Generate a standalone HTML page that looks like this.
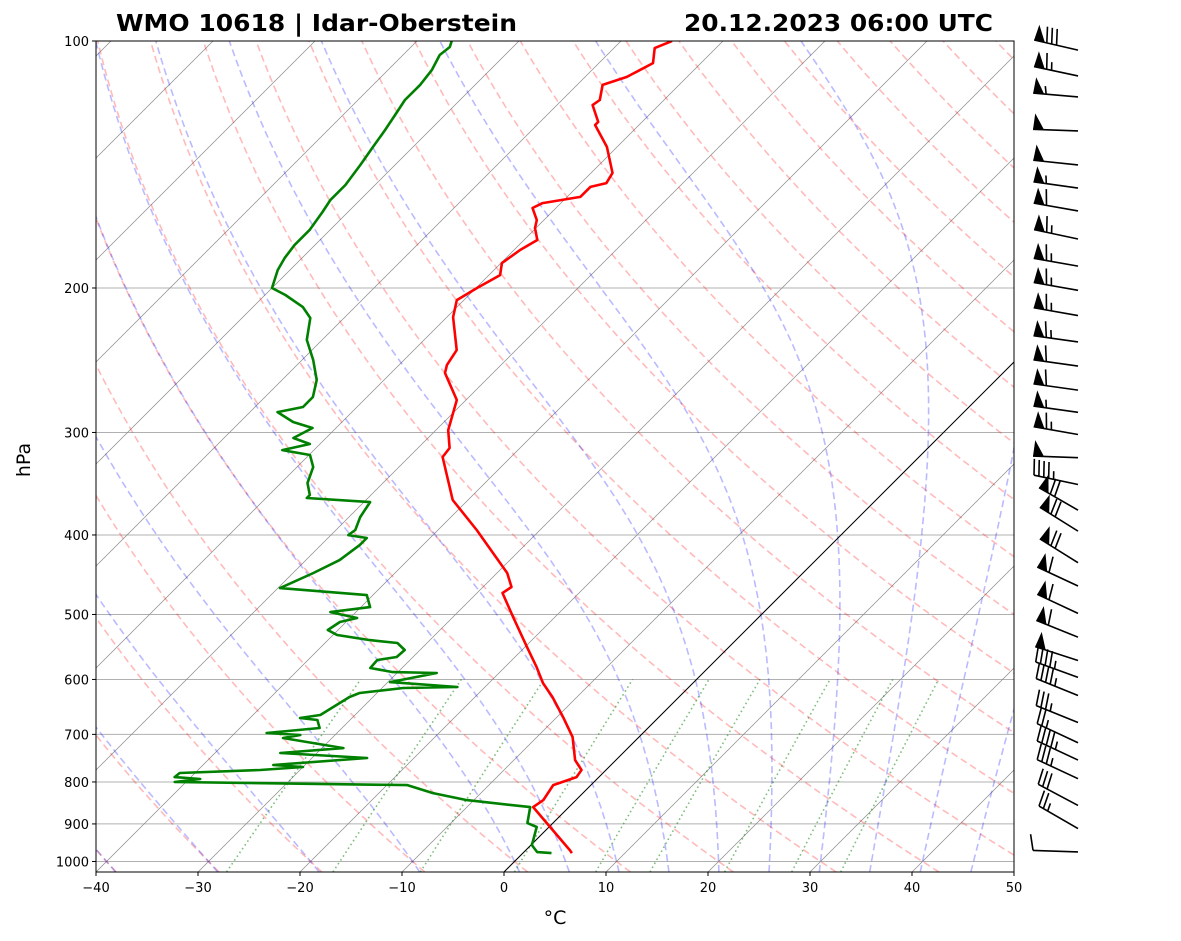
<!DOCTYPE html>
<html><head><meta charset="utf-8"><title>Skew-T WMO 10618</title>
<style>
html,body{margin:0;padding:0;background:#fff;}
svg{display:block;font-family:"DejaVu Sans","Liberation Sans",sans-serif;}
</style></head>
<body>
<svg id="chart" width="1181" height="941" viewBox="0 0 1181 941" xmlns="http://www.w3.org/2000/svg">
<defs><clipPath id="plotclip"><rect x="96" y="41" width="918" height="831"/></clipPath></defs>
<rect x="0" y="0" width="1181" height="941" fill="#fff"/>
<g id="bg" clip-path="url(#plotclip)"></g>
<g id="traces" clip-path="url(#plotclip)"></g>
<rect x="96" y="41" width="918" height="831" fill="none" stroke="#000" stroke-width="1"/>
<g id="axes"></g>
<g id="barbs"></g>
<text x="116" y="31" font-size="23" font-weight="bold" textLength="401" lengthAdjust="spacingAndGlyphs">WMO 10618 | Idar-Oberstein</text>
<text x="684" y="31" font-size="23" font-weight="bold" textLength="309" lengthAdjust="spacingAndGlyphs">20.12.2023 06:00 UTC</text>
<text x="555" y="924" font-size="19" text-anchor="middle">°C</text>
<text transform="translate(30,460) rotate(-90)" font-size="19" text-anchor="middle">hPa</text>
</svg>
<script>
// ---- data ----
const tempP = [100,102,106.4,110.6,113.1,118,119.7,125.5,126.6,134.6,144.8,149,150.6,154.9,157.6,159.8,165.3,169,174.8,179.8,186.5,192.9,200,206.9,217,238.1,248.3,253.9,273.9,298,313.4,321.4,362.6,394.5,445.1,462.9,470.8,503.6,547.9,579.5,606.1,630.4,666.8,705.3,752.3,773.7,789.1,807,841.7,858.4,897.9,968.5,976.7];
const tempT = [-65,-66,-64.7,-65.9,-67.5,-66.3,-66.5,-64.3,-64.3,-61,-57.9,-57.5,-58.7,-58.7,-61.8,-62.3,-60.7,-60.1,-58.7,-59.4,-59.9,-58.9,-59.9,-60.7,-59.4,-55.8,-55.3,-54.7,-50.9,-48.8,-46.9,-46.7,-41.5,-36.2,-29,-27.2,-27.5,-24.1,-19.8,-16.9,-14.7,-12.4,-9.4,-6.5,-4,-2.4,-2.2,-3.7,-3.2,-3.5,-0.6,4.3,4.8];
const dewP = [100,101.7,104,108.5,113.1,118,123.1,128.4,135,141.6,149.8,156.3,161.6,170,177.3,183.9,190.2,200,204,211,217.6,231.4,244.8,258.9,271.6,279.3,283.3,291.3,296.3,304.7,309.9,315.2,319.6,330.6,345.7,357.6,360.6,364.7,380.4,394.5,400.1,403.4,411.5,429.2,445.1,464.3,473.5,489.7,496.6,505,510.7,522.3,529.6,537.2,541.7,552.4,563.4,568.2,581.1,587.7,589.3,604.4,612.9,614.6,623.3,630.3,662.9,668.6,672.3,687.6,697.4,701.3,707.2,727.4,737.6,748,762.9,767.1,773.7,780.2,789.1,793.5,800.2,807,825.4,841.7,858.4,897.9,907.9,955.1,974,976.7];
const dewT = [-86.6,-86.2,-86.4,-85.7,-85.4,-85.4,-84.9,-84.4,-83.9,-83.4,-82.9,-82.9,-82.5,-82,-82,-81.7,-81.2,-80,-78,-75.1,-73.3,-71.5,-68.9,-66.6,-65.3,-65.3,-67.3,-64.8,-62.3,-63.2,-61,-63.1,-59.9,-58.4,-57.4,-56,-56,-49.4,-48.9,-48.1,-48.3,-46.2,-46.2,-46.7,-48,-49.8,-40.6,-39.1,-42.5,-39.3,-40.6,-41,-39.6,-35.9,-32.9,-31.5,-31.6,-33.2,-33.1,-30.5,-26.1,-29.8,-22.7,-27.9,-31.7,-32.3,-33.4,-35.1,-33.2,-32.2,-36.9,-33.4,-34.8,-27.9,-33.6,-24.6,-33.1,-30,-33.9,-41.5,-41.6,-38.9,-41.1,-18,-14.7,-10.7,-3.8,-2.5,-1.2,0.1,1.3,2.8];
const barbP = [102.6,110.3,117.0,128.7,141.6,151.1,161.1,174.3,188.1,201.3,216.1,232.7,249.0,266.4,283.5,301.7,322.0,347.2,373.1,395.7,432.4,461.6,498.4,532.9,568.9,596.6,627.7,677.1,716.6,752.3,792.7,854.4,911.7,973.7];
const barbSpd = [80,65,55,50,50,55,60,65,65,65,65,65,60,60,55,65,50,45,70,70,70,60,60,60,50,45,45,35,25,45,35,30,25,10];
const barbDir = [283,282,275,272,276,278,280,282,280,280,280,278,278,278,278,280,272,282,300,302,302,295,295,292,288,290,292,292,295,295,295,298,300,272];
const xTicks = [-40,-30,-20,-10,0,10,20,30,40,50];
const yTicks = [100,200,300,400,500,600,700,800,900,1000];
const dryTheta = [-40,-30,-20,-10,0,10,20,30,40,50,60,70,80,90,100,110,120,130,140,150,160,170,180,190,200];
const moistT0 = [-40,-30,-20,-10,0,5,10,15,20,25,30,35,40,45,50];
const mixW = [0.0004,0.001,0.002,0.004,0.007,0.01,0.016,0.024,0.032];

// ---- axes ----
const PTOP=100, PBOT=1030, YT=41, YB=872, XL=96, XR=1014;
function Y(p){return YT+(YB-YT)*Math.log(p/PTOP)/Math.log(PBOT/PTOP);}
function X(T,p){return XL+(T+40)*10.2+(YB-Y(p));}
const NS='http://www.w3.org/2000/svg';
function mk(tag,attrs,parent){const e=document.createElementNS(NS,tag);for(const k in attrs)e.setAttribute(k,attrs[k]);parent.appendChild(e);return e;}
function pathD(ps,ts){let d='';for(let i=0;i<ps.length;i++){d+=(i?'L':'M')+X(ts[i],ps[i]).toFixed(1)+','+Y(ps[i]).toFixed(1);}return d;}
const bg=document.getElementById('bg'), tr=document.getElementById('traces'), ax=document.getElementById('axes'), bb=document.getElementById('barbs');
const pgrid=[];for(let p=PBOT;p>=PTOP-1;p-=5)pgrid.push(Math.max(p,PTOP));

for(const p of yTicks){
  const l=mk('line',{x1:XL,x2:XR,y1:Y(p),y2:Y(p),stroke:'#b0b0b0','stroke-width':1},bg);
  
  
}
for(let t=-140;t<=50;t+=10){
  const l=mk('line',{x1:X(t,PBOT),y1:YB,x2:X(t,PTOP),y2:YT,stroke:'#8a8a8a','stroke-width':0.7},bg);
  
  
}
for(const th of dryTheta){
  const ts=pgrid.map(p=>(th+273.15)*Math.pow(p/1000,0.2857)-273.15);
  const e=mk('path',{d:pathD(pgrid,ts),fill:'none',stroke:'rgb(255,0,0)','stroke-opacity':0.27,'stroke-width':1.6,'stroke-dasharray':'7,4'},bg);
  
  
}
function es(Tc){return 6.112*Math.exp(17.67*Tc/(Tc+243.5));}
function dTdp(p,T){const Tc=T-273.15;const e=es(Tc);const rs=0.622*e/(p-e);const Lv=2.501e6,Rd=287.04,Cp=1004.6;
  return (Rd*T+Lv*rs)/(Cp+(Lv*Lv*rs*0.622/(Rd*T*T)))/p;}
function moist(t0){
  const up=[],dn=[];let T=t0+273.15,p=1000,h=-5;
  up.push([p,T]);
  while(p>PTOP){const k1=dTdp(p,T),k2=dTdp(p+h/2,T+h/2*k1),k3=dTdp(p+h/2,T+h/2*k2),k4=dTdp(p+h,T+h*k3);T+=h/6*(k1+2*k2+2*k3+k4);p+=h;up.push([p,T]);}
  T=t0+273.15;p=1000;h=5;
  while(p<PBOT){const k1=dTdp(p,T),k2=dTdp(p+h/2,T+h/2*k1),k3=dTdp(p+h/2,T+h/2*k2),k4=dTdp(p+h,T+h*k3);T+=h/6*(k1+2*k2+2*k3+k4);p+=h;dn.unshift([p,T]);}
  return dn.concat(up);
}
for(const t0 of moistT0){
  const pts=moist(t0);
  const e=mk('path',{d:pathD(pts.map(a=>a[0]),pts.map(a=>a[1]-273.15)),fill:'none',stroke:'rgb(0,0,255)','stroke-opacity':0.27,'stroke-width':1.6,'stroke-dasharray':'7,4'},bg);
  
  
}
const mp=[];for(let p=PBOT;p>=600;p-=10)mp.push(p);mp.push(600);
for(const w of mixW){
  const ts=mp.map(p=>{const e=p*w/(0.622+w);const v=Math.log(e/6.112);return 243.5*v/(17.67-v);});
  const e=mk('path',{d:pathD(mp,ts),fill:'none',stroke:'rgb(0,128,0)','stroke-opacity':0.5,'stroke-width':1.6,'stroke-dasharray':'1.6,3'},bg);
  
  
}
const zl=mk('line',{x1:X(0,PBOT),y1:YB,x2:X(0,PTOP),y2:YT,stroke:'#000','stroke-width':1},bg);



const tl=mk('path',{d:pathD(tempP,tempT),fill:'none',stroke:'#ff0000','stroke-width':2.6,'stroke-linejoin':'round'},tr);


const dl=mk('path',{d:pathD(dewP,dewT),fill:'none',stroke:'#008000','stroke-width':2.6,'stroke-linejoin':'round'},tr);



for(const t of xTicks){
  const x=XL+(t+40)*10.2;
  const tk=mk('line',{x1:x,x2:x,y1:YB,y2:YB+4,stroke:'#000','stroke-width':1},ax);
  
  
  const tx=mk('text',{x:x,y:YB+20,'font-size':13,'text-anchor':'middle'},ax);
  tx.textContent=(t<0?'\u2212'+(-t):''+t);
  
  
}
for(const p of yTicks){
  const y=Y(p);
  const tk=mk('line',{x1:XL-4,x2:XL,y1:y,y2:y,stroke:'#000','stroke-width':1},ax);
  
  
  const tx=mk('text',{x:XL-7,y:y+5,'font-size':13,'text-anchor':'end'},ax);
  tx.textContent=''+p;
  
  
}

const BX=1078,L=45;
for(let i=0;i<barbP.length;i++){
  const by=Y(barbP[i]);const d=barbDir[i]*Math.PI/180;
  const ux=Math.sin(d),uy=-Math.cos(d);const vx=-uy,vy=ux;
  const tx=BX+L*ux,ty=by+L*uy;
  const g=mk('g',{},bb);
  
  
  mk('line',{x1:BX,y1:by,x2:tx,y2:ty,stroke:'#000','stroke-width':1.6},g);
  let s=Math.round(barbSpd[i]/5)*5;let pos=0;const H=16,W=11,SP=5;
  let np=Math.floor(s/50);s-=np*50;let nf=Math.floor(s/10);s-=nf*10;let nh=s>=5?1:0;
  for(let k=0;k<np;k++){
    const ax0=tx-ux*pos,ay0=ty-uy*pos;const bx1=tx-ux*(pos+W),by1=ty-uy*(pos+W);
    const cx=tx-ux*(pos+W*0.15)+vx*H,cy=ty-uy*(pos+W*0.15)+vy*H;
    mk('polygon',{points:`${ax0},${ay0} ${cx},${cy} ${bx1},${by1}`,fill:'#000'},g);
    pos+=W+2;
  }
  if(np===0&&nf===0)pos+=SP;
  for(let k=0;k<nf;k++){
    const x0=tx-ux*pos,y0=ty-uy*pos;
    mk('line',{x1:x0,y1:y0,x2:x0+ux*3+vx*H,y2:y0+uy*3+vy*H,stroke:'#000','stroke-width':1.6},g);
    pos+=SP;
  }
  if(nh){
    const x0=tx-ux*pos,y0=ty-uy*pos;
    mk('line',{x1:x0,y1:y0,x2:x0+ux*1.5+vx*H/2,y2:y0+uy*1.5+vy*H/2,stroke:'#000','stroke-width':1.6},g);
  }
}
</script>
</body></html>
